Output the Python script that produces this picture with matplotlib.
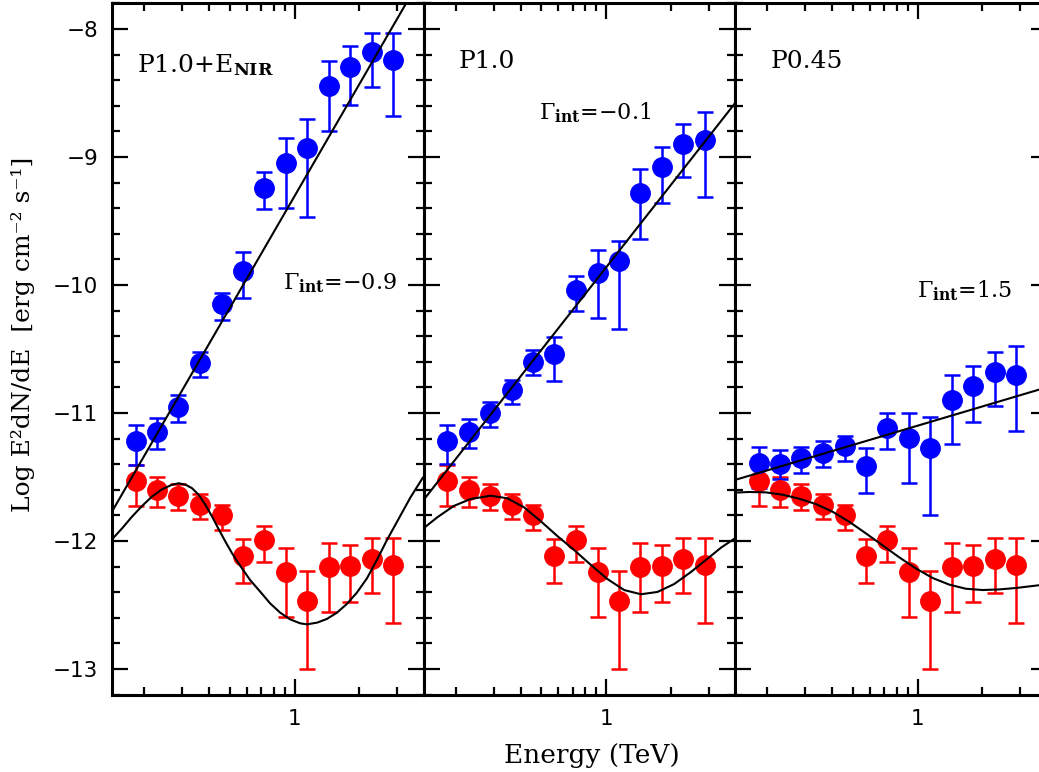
"""
Three-panel SED comparison: observed (red) vs intrinsic (blue) spectra,
with power-law fits and absorbed model curves.
"""

import matplotlib

matplotlib.use("Agg")

import matplotlib.pyplot as plt
import numpy as np
from matplotlib.ticker import FixedLocator, MultipleLocator, NullFormatter

# ---------------------------------------------------------------------------
# data
# ---------------------------------------------------------------------------

ENERGY_TEV = [0.182, 0.229, 0.288, 0.363, 0.457, 0.575, 0.724,
              0.912, 1.148, 1.445, 1.820, 2.291, 2.884]

# observed spectrum (same in all panels)
RED_Y = [-11.535, -11.60, -11.645, -11.715, -11.80, -12.12, -11.995,
         -12.24, -12.465, -12.20, -12.197, -12.14, -12.19]
RED_HI = [-11.41, -11.50, -11.556, -11.63, -11.72, -11.982, -11.88,
          -12.053, -12.232, -12.015, -12.03, -11.979, -11.979]
RED_LO = [-11.724, -11.732, -11.755, -11.826, -11.917, -12.331, -12.161,
          -12.591, -13.0, -12.556, -12.475, -12.403, -12.638]

# intrinsic spectra, one per panel
BLUE1_Y = [-11.22, -11.146, -10.95, -10.607, -10.15, -9.89, -9.24,
           -9.045, -8.93, -8.445, -8.30, -8.18, -8.24]
BLUE1_HI = [-11.09, -11.04, -10.86, -10.52, -10.065, -9.745, -9.12,
            -8.85, -8.70, -8.25, -8.13, -8.03, -8.03]
BLUE1_LO = [-11.41, -11.28, -11.07, -10.72, -10.27, -10.10, -9.41,
            -9.40, -9.47, -8.80, -8.59, -8.45, -8.68]

BLUE2_Y = [-11.215, -11.146, -11.003, -10.82, -10.60, -10.54, -10.04,
           -9.91, -9.81, -9.28, -9.08, -8.895, -8.87]
BLUE2_HI = [-11.09, -11.05, -10.915, -10.74, -10.51, -10.41, -9.93,
            -9.73, -9.66, -9.09, -8.92, -8.74, -8.65]
BLUE2_LO = [-11.40, -11.27, -11.11, -10.93, -10.70, -10.75, -10.20,
            -10.26, -10.34, -9.64, -9.36, -9.16, -9.31]

BLUE3_Y = [-11.39, -11.395, -11.35, -11.31, -11.26, -11.415, -11.12,
           -11.195, -11.27, -10.895, -10.79, -10.68, -10.70]
BLUE3_HI = [-11.268, -11.29, -11.268, -11.22, -11.177, -11.273, -11.0,
            -11.0, -11.035, -10.70, -10.63, -10.52, -10.48]
BLUE3_LO = [-11.583, -11.515, -11.468, -11.425, -11.375, -11.622, -11.284,
            -11.544, -11.80, -11.245, -11.07, -10.943, -11.143]

# power-law fit lines (log10 E, log flux)
FIT1_LOGE = [-0.85, 0.60]
FIT1_Y = [-11.77, -7.565]
FIT2_LOGE = [-0.85, 0.60]
FIT2_Y = [-11.68, -8.58]
FIT3_LOGE = [-0.85, 0.60]
FIT3_Y = [-11.523, -10.80]

# absorbed model curves (log10 E, log flux)
MODEL1_LOGE = [-0.85, -0.803, -0.757, -0.710, -0.664, -0.617, -0.570, -0.539,
               -0.508, -0.477, -0.446, -0.415, -0.384, -0.353, -0.322, -0.291,
               -0.267, -0.207, -0.160, -0.114, -0.067, -0.021, 0.026, 0.057,
               0.104, 0.150, 0.197, 0.243, 0.290, 0.337, 0.383, 0.430, 0.539,
               0.597]
MODEL1_Y = [-11.987, -11.901, -11.810, -11.726, -11.653, -11.596, -11.560,
            -11.549, -11.560, -11.588, -11.640, -11.718, -11.810, -11.909,
            -12.005, -12.096, -12.160, -12.305, -12.396, -12.487, -12.560,
            -12.612, -12.643, -12.651, -12.638, -12.609, -12.560, -12.492,
            -12.403, -12.291, -12.148, -11.992, -11.660, -11.505]

MODEL2_LOGE = [-0.85, -0.786, -0.709, -0.631, -0.538, -0.460, -0.382, -0.305,
               -0.227, -0.149, -0.071, 0.006, 0.084, 0.162, 0.239, 0.317,
               0.395, 0.472, 0.535, 0.597]
MODEL2_Y = [-11.901, -11.815, -11.726, -11.672, -11.646, -11.666, -11.737,
            -11.844, -11.961, -12.070, -12.187, -12.297, -12.383, -12.416,
            -12.398, -12.336, -12.242, -12.138, -12.052, -11.982]

MODEL3_LOGE = [-0.85, -0.785, -0.707, -0.629, -0.552, -0.474, -0.396, -0.319,
               -0.241, -0.163, -0.085, -0.008, 0.070, 0.148, 0.225, 0.303,
               0.381, 0.458, 0.563]
MODEL3_Y = [-11.622, -11.617, -11.620, -11.638, -11.669, -11.711, -11.771,
            -11.849, -11.940, -12.034, -12.128, -12.214, -12.289, -12.341,
            -12.373, -12.383, -12.378, -12.367, -12.346]

PANEL_LABELS = [r"P1.0+E$_{\mathbf{NIR}}$", "P1.0", "P0.45"]
GAMMA_LABELS = [r"$\Gamma_{\mathbf{int}}$=−0.9",
                r"$\Gamma_{\mathbf{int}}$=−0.1",
                r"$\Gamma_{\mathbf{int}}$=1.5"]

# ---------------------------------------------------------------------------
# layout / style
# ---------------------------------------------------------------------------

FIG_W, FIG_H = 1039, 772
PANEL_LEFTS = [112, 423.5, 735]
PANEL_WIDTH = 311.5
PANEL_TOP, PANEL_BOTTOM = 3, 695

XLIM = (10 ** -0.85, 10 ** 0.6)
YLIM = (-13.203, -7.797)

BLUE = "#0000ff"
RED = "#ff0000"

PANEL_LABEL_POS = [(0.080, 0.910), (0.112, 0.915), (0.114, 0.915)]
GAMMA_LABEL_POS = [(0.548, 0.595), (0.372, 0.842), (0.583, 0.584)]

plt.rcParams["mathtext.fontset"] = "dejavuserif"


def draw_points(ax, y, hi, lo, color):
    y = np.asarray(y)
    yerr = [y - np.asarray(lo), np.asarray(hi) - y]
    ax.errorbar(ENERGY_TEV, y, yerr=yerr, fmt="o", color=color, ms=14,
                mec=color, ecolor=color, elinewidth=1.8, capsize=6,
                capthick=1.8, zorder=3)


def style_axes(ax, show_ylabels):
    ax.set_xscale("log")
    ax.set_xlim(*XLIM)
    ax.set_ylim(*YLIM)

    ax.xaxis.set_major_locator(FixedLocator([1.0]))
    ax.set_xticklabels(["1"])
    ax.xaxis.set_minor_locator(FixedLocator([0.2, 0.3, 0.4, 0.5, 0.6, 0.7,
                                             0.8, 0.9, 2, 3]))
    ax.xaxis.set_minor_formatter(NullFormatter())
    ax.yaxis.set_major_locator(MultipleLocator(1))
    ax.yaxis.set_minor_locator(MultipleLocator(0.2))

    ax.tick_params(which="both", direction="in", top=True, right=True,
                   width=1.6, labelsize=15.5)
    ax.tick_params(which="major", length=11.5)
    ax.tick_params(which="minor", length=5.8)
    ax.tick_params(axis="x", pad=10)
    ax.tick_params(axis="y", pad=10, labelleft=show_ylabels)

    for spine in ax.spines.values():
        spine.set_linewidth(2.2)


def main():
    fig = plt.figure(figsize=(FIG_W / 100, FIG_H / 100), dpi=100)

    blues = [(BLUE1_Y, BLUE1_HI, BLUE1_LO),
             (BLUE2_Y, BLUE2_HI, BLUE2_LO),
             (BLUE3_Y, BLUE3_HI, BLUE3_LO)]
    fits = [(FIT1_LOGE, FIT1_Y), (FIT2_LOGE, FIT2_Y), (FIT3_LOGE, FIT3_Y)]
    models = [(MODEL1_LOGE, MODEL1_Y), (MODEL2_LOGE, MODEL2_Y),
              (MODEL3_LOGE, MODEL3_Y)]

    for i in range(3):
        rect = [PANEL_LEFTS[i] / FIG_W, 1 - PANEL_BOTTOM / FIG_H,
                PANEL_WIDTH / FIG_W, (PANEL_BOTTOM - PANEL_TOP) / FIG_H]
        ax = fig.add_axes(rect)

        draw_points(ax, RED_Y, RED_HI, RED_LO, RED)
        draw_points(ax, *blues[i], BLUE)

        fit_x = 10 ** np.asarray(fits[i][0])
        ax.plot(fit_x, fits[i][1], color="black", lw=1.5, zorder=4)
        model_x = 10 ** np.asarray(models[i][0])
        ax.plot(model_x, models[i][1], color="black", lw=1.5, zorder=4,
                solid_joinstyle="round")

        style_axes(ax, show_ylabels=(i == 0))

        ax.text(*PANEL_LABEL_POS[i], PANEL_LABELS[i], transform=ax.transAxes,
                family="DejaVu Serif", fontsize=18, ha="left", va="center")
        ax.text(*GAMMA_LABEL_POS[i], GAMMA_LABELS[i], transform=ax.transAxes,
                family="DejaVu Serif", fontsize=16, ha="left", va="center")

    fig.text(592 / FIG_W, 1 - 755 / FIG_H, "Energy (TeV)",
             family="DejaVu Serif", fontsize=19, ha="center", va="center")
    fig.text(23 / FIG_W, 1 - 334 / FIG_H, "Log E²dN/dE  [erg cm⁻² s⁻¹]",
             family="DejaVu Serif", fontsize=18, rotation=90,
             ha="center", va="center")

    fig.savefig("out.png", dpi=100)
    plt.close(fig)


if __name__ == "__main__":
    main()
